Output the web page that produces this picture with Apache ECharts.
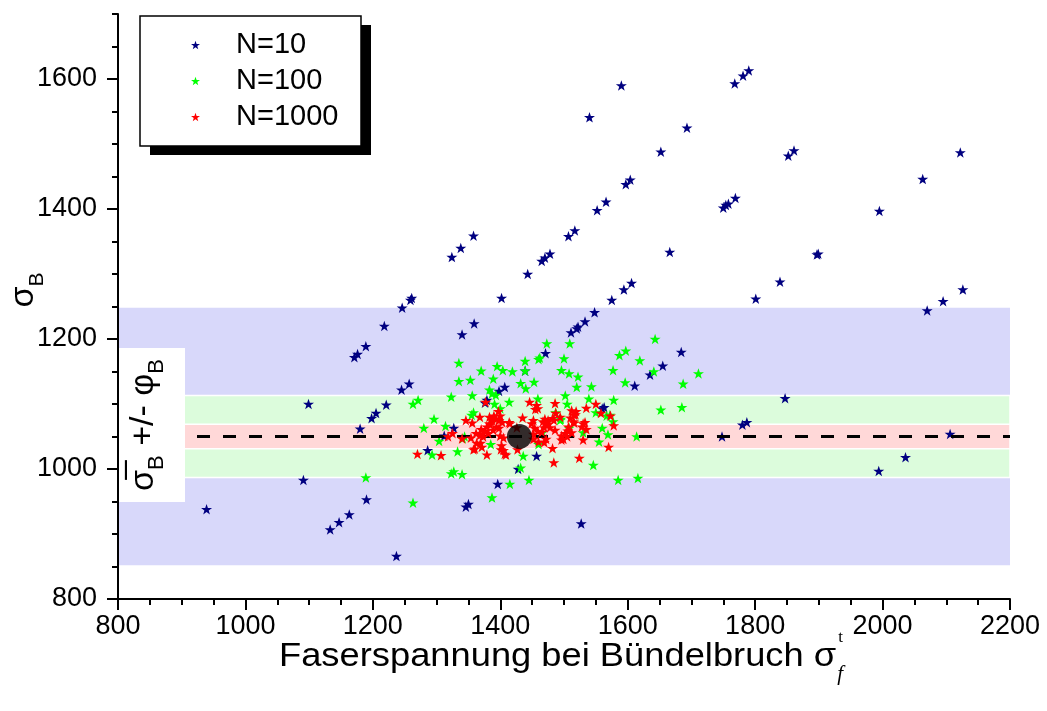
<!DOCTYPE html>
<html>
<head>
<meta charset="utf-8" />
<title>sigma_B scatter</title>
<script src="https://cdn.jsdelivr.net/npm/echarts@6/dist/echarts.min.js"></script>
</head>
<body style="margin:0;background:#fff;">
<div id="main" style="width:1047px;height:711px;"></div>
<script type="text/javascript">
// tick values
var xTicks = [800, 1000, 1200, 1400, 1600, 1800, 2000, 2200];
var yMajorTicks = [800, 1000, 1200, 1400, 1600];
var yMinorTicks = [800, 850, 900, 950, 1000, 1050, 1100, 1150, 1200, 1250, 1300, 1350, 1400, 1450, 1500, 1550, 1600, 1650, 1700];

// mean sigma_B and the +/- phi_B half widths (N=10, N=100, N=1000)
var meanSigma = 1050;
var bandHalf = [198, 63, 19];
var meanPoint = [1430, 1050];

// N=10
var n10Points = [
  [1590,1590],[1540,1541],[1693,1525],[1652,1488],[1768,1593],[1781,1605],[1790,1613],[1852,1482],
  [1861,1490],[2122,1487],[2063,1446],[1995,1397],[1604,1445],[1597,1438],[1566,1411],[1552,1398],
  [1517,1367],[1507,1358],[1478,1331],[1470,1325],[1465,1320],[1443,1300],[1769,1417],[1758,1408],
  [1754,1406],[1750,1402],[1666,1334],[1899,1331],[1897,1330],[1606,1286],[1594,1276],[1575,1260],
  [1548,1241],[1839,1288],[1801,1262],[2126,1276],[2095,1258],[2070,1244],[1358,1359],[1338,1340],
  [1324,1326],[1402,1263],[1261,1263],[1259,1260],[1246,1248],[1218,1220],[1189,1189],[1176,1177],
  [1171,1172],[1257,1131],[1245,1122],[1221,1099],[1205,1086],[1198,1078],[1180,1062],[1099,1100],
  [1286,1029],[1312,1051],[1091,983],[1190,953],[1163,930],[1147,918],[1133,907],[939,938],
  [1237,866],[1340,1207],[1359,1224],[1533,1227],[1522,1219],[1520,1216],[1511,1210],[1471,1178],
  [1684,1180],[1655,1159],[1635,1145],[1611,1128],[1407,1126],[1398,1120],[1379,1106],[1376,1102],
  [1327,1063],[1560,1093],[1563,1095],[1780,1068],[1787,1072],[1748,1050],[1457,1020],[1428,1000],
  [1396,977],[1350,946],[1346,942],[1527,916],[1847,1109],[2106,1054],[2036,1018],[1994,997],
  [1439,1151]
];

// N=100
var n100Points = [
  [1643,1200],[1473,1193],[1509,1193],[1597,1182],[1587,1175],[1335,1163],[1439,1166],[1462,1171],
  [1460,1169],[1500,1170],[1619,1167],[1395,1158],[1370,1151],[1404,1152],[1419,1150],[1439,1151],
  [1496,1152],[1508,1147],[1522,1142],[1577,1152],[1641,1150],[1711,1147],[1335,1135],[1353,1137],
  [1389,1139],[1432,1132],[1453,1134],[1440,1124],[1520,1126],[1543,1127],[1596,1133],[1687,1131],
  [1383,1122],[1387,1116],[1393,1114],[1323,1111],[1356,1113],[1502,1113],[1539,1108],[1578,1106],
  [1271,1106],[1263,1100],[1391,1100],[1414,1103],[1459,1108],[1400,1093],[1652,1091],[1685,1095],
  [1358,1087],[1355,1083],[1487,1087],[1495,1077],[1550,1087],[1567,1082],[1572,1083],[1296,1077],
  [1314,1066],[1280,1063],[1508,1063],[1560,1063],[1344,1050],[1341,1047],[1614,1050],[1304,1043],
  [1385,1038],[1460,1038],[1555,1042],[1569,1053],[1530,1056],[1333,1027],[1293,1022],[1436,1020],
  [1546,1006],[1432,1002],[1327,996],[1323,993],[1340,992],[1189,987],[1415,977],[1445,983],
  [1585,983],[1616,986],[1387,956],[1263,948],[1505,1100],[1577,1073],[1466,1056],[1494,1075]
];

// N=1000
var n1000Points = [
  [1377,1103],[1446,1103],[1457,1098],[1459,1093],[1486,1101],[1512,1090],[1519,1089],[1516,1083],
  [1535,1094],[1550,1100],[1558,1086],[1573,1082],[1578,1067],[1570,1034],[1530,1045],[1535,1061],
  [1524,1017],[1484,1010],[1482,1032],[1472,1046],[1469,1041],[1496,1051],[1499,1046],[1506,1059],
  [1505,1050],[1512,1056],[1475,1075],[1470,1077],[1474,1069],[1478,1064],[1469,1064],[1482,1078],
  [1487,1086],[1494,1080],[1454,1063],[1459,1058],[1452,1054],[1510,1079],[1516,1071],[1518,1084],
  [1427,1030],[1435,1079],[1415,1070],[1403,1072],[1398,1063],[1400,1051],[1405,1048],[1402,1036],
  [1401,1030],[1407,1023],[1409,1022],[1379,1022],[1363,1040],[1369,1040],[1358,1030],[1360,1031],
  [1368,1052],[1372,1054],[1376,1058],[1379,1065],[1383,1070],[1387,1075],[1383,1080],[1394,1077],
  [1390,1082],[1346,1075],[1356,1071],[1368,1080],[1354,1048],[1340,1047],[1318,1050],[1325,1055],
  [1270,1023],[1307,1021],[1397,1089],[1400,1082],[1370,1061],[1362,1055],[1452,1046],[1460,1042],
  [1465,1057],[1449,1070],[1426,1064],[1455,1092],[1467,1073],[1484,1075],[1533,1072],[1528,1065],
  [1507,1065],[1452,1075],[1486,1060],[1502,1055],[1496,1045],[1530,1070],[1470,1070],[1515,1073],
  [1373,1050],[1371,1034],[1405,1029],[1384,1068],[1389,1060],[1394,1065],[1381,1055],[1414,1072],
  [1398,1075]
];

var seriesNames = ['N=10', 'N=100', 'N=1000'];
var seriesColors = ['#000080', '#00ff00', '#ff0000'];
var bandColors = ['#d8d8fa', '#dcfcdc', '#ffd8d8'];

var starPath = 'path://M50,0 L61.8,35.1 L98.1,35.1 L68.8,56.7 L79.4,91.9 L50,70.3 L20.6,91.9 L31.2,56.7 L1.9,35.1 L38.2,35.1 Z';
var FONT = '"Liberation Sans", Arial, sans-serif';

var ctx = document.createElement('canvas').getContext('2d');
function textW(t, size, fam, style) {
  ctx.font = (style || '') + ' ' + size + 'px ' + fam;
  return ctx.measureText(t).width;
}

// rotated label built from main text + subscripts
function rotatedLabel(cx, cy, parts, size, subSize) {
  var total = 0, widths = [];
  parts.forEach(function (p) {
    var w = textW(p.t, p.sub ? subSize : size, FONT);
    widths.push(w);
    total += w;
  });
  var x0 = -total / 2, kids = [];
  parts.forEach(function (p, i) {
    kids.push({
      type: 'text', x: x0, y: p.sub ? 13 : 0, z: 60,
      style: { text: p.t, fontSize: p.sub ? subSize : size, fontFamily: FONT, fill: '#000', verticalAlign: 'middle', align: 'left' }
    });
    x0 += widths[i];
  });
  return { type: 'group', x: cx, y: cy, rotation: Math.PI / 2, z: 60, children: kids };
}

var xTitle = 'Faserspannung bei Bündelbruch σ';
var xTitleX = 279, xTitleY = 657, xTitleScale = 1.1;
var xTitleW = textW(xTitle, 33, FONT) * xTitleScale;

var myChart = echarts.init(document.getElementById('main'));

var bandData = bandHalf.map(function (h, i) {
  return [
    { xAxis: xTicks[0], yAxis: meanSigma - h, itemStyle: { color: bandColors[i], borderColor: i ? '#fff' : bandColors[i], borderWidth: i ? 1.5 : 0 } },
    { xAxis: xTicks[xTicks.length - 1], yAxis: meanSigma + h }
  ];
});

function plainNum(v) { return String(v); }

var option = {
  animation: false,
  backgroundColor: '#fff',
  grid: { left: 118, right: 37, top: 14, bottom: 112 },
  legend: {
    data: seriesNames,
    orient: 'vertical',
    left: 140, top: 16, z: 20,
    padding: [14, 22, 14, 51],
    itemGap: 6, itemWidth: 9, itemHeight: 9,
    selectedMode: false,
    textStyle: { fontSize: 29, fontFamily: FONT, color: '#000', padding: [0, 0, 0, 31], lineHeight: 30 }
  },
  xAxis: {
    type: 'value', min: xTicks[0], max: xTicks[xTicks.length - 1], interval: 200, z: 10,
    axisLine: { onZero: false, lineStyle: { color: '#000', width: 2 } },
    axisTick: { length: 11, lineStyle: { color: '#000', width: 2 } },
    minorTick: { show: true, splitNumber: 4, length: 6, lineStyle: { color: '#000', width: 2 } },
    splitLine: { show: false },
    axisLabel: { fontSize: 27, fontFamily: FONT, color: '#000', margin: 14, formatter: plainNum }
  },
  yAxis: [{
    type: 'value', min: 800, max: 1700, z: 10,
    axisLine: { onZero: false, lineStyle: { color: '#000', width: 2 } },
    axisTick: { customValues: yMajorTicks, length: 11, lineStyle: { color: '#000', width: 2 } },
    axisLabel: { customValues: yMajorTicks, fontSize: 27, fontFamily: FONT, color: '#000', margin: 21, formatter: plainNum },
    splitLine: { show: false }
  }, {
    type: 'value', min: 800, max: 1700, position: 'left', z: 10,
    axisLine: { show: false },
    axisTick: { customValues: yMinorTicks, length: 6, lineStyle: { color: '#000', width: 2 } },
    axisLabel: { show: false },
    splitLine: { show: false }
  }],
  series: [{
    name: 'bands', type: 'scatter', data: [], silent: true, z: 1,
    markArea: { silent: true, data: bandData },
    markLine: {
      silent: true, symbol: 'none', label: { show: false },
      lineStyle: { color: '#000', width: 3, type: [13, 13] },
      data: [[{ coord: [924, meanSigma] }, { coord: [xTicks[xTicks.length - 1], meanSigma] }]]
    }
  }].concat([n10Points, n100Points, n1000Points].map(function (pts, i) {
    return {
      name: seriesNames[i], type: 'scatter', data: pts, z: 3 + i,
      symbol: starPath, symbolSize: 11, symbolKeepAspect: true,
      itemStyle: { color: seriesColors[i], opacity: 1 }
    };
  })).concat([{
    name: 'mean', type: 'scatter', data: [meanPoint], z: 8,
    symbol: 'circle', symbolSize: 25, itemStyle: { color: '#000' }
  }]),
  graphic: [
    // legend frame with its hard drop shadow
    { type: 'rect', z: 15, shape: { x: 150, y: 25, width: 221, height: 130 }, style: { fill: '#000' } },
    { type: 'rect', z: 16, shape: { x: 140, y: 16, width: 221, height: 130 }, style: { fill: '#fff', stroke: '#000', lineWidth: 1.5 } },
    // label box on the left of the bands
    { type: 'rect', z: 50, shape: { x: 119, y: 348, width: 66, height: 154 }, style: { fill: '#fff' } },
    rotatedLabel(144, 425, [{ t: 'σ\u0305' }, { t: 'B', sub: true }, { t: ' +/- φ' }, { t: 'B', sub: true }], 34, 22),
    rotatedLabel(24, 290, [{ t: 'σ' }, { t: 'B', sub: true }], 34, 21),
    { type: 'text', x: xTitleX, y: xTitleY, z: 60, scaleX: xTitleScale,
      style: { text: xTitle, fontSize: 33, fontFamily: FONT, fill: '#000', verticalAlign: 'middle' } },
    { type: 'text', x: xTitleX + xTitleW + 1, y: xTitleY + 17, z: 60,
      style: { text: 'f', fontSize: 21, fontStyle: 'italic', fontFamily: '"Liberation Serif", serif', fill: '#000', verticalAlign: 'middle' } },
    { type: 'text', x: xTitleX + xTitleW + 2, y: xTitleY - 19, z: 60,
      style: { text: 't', fontSize: 17, fontFamily: '"Liberation Serif", serif', fill: '#000', verticalAlign: 'middle' } }
  ]
};

myChart.setOption(option);
</script>
</body>
</html>
